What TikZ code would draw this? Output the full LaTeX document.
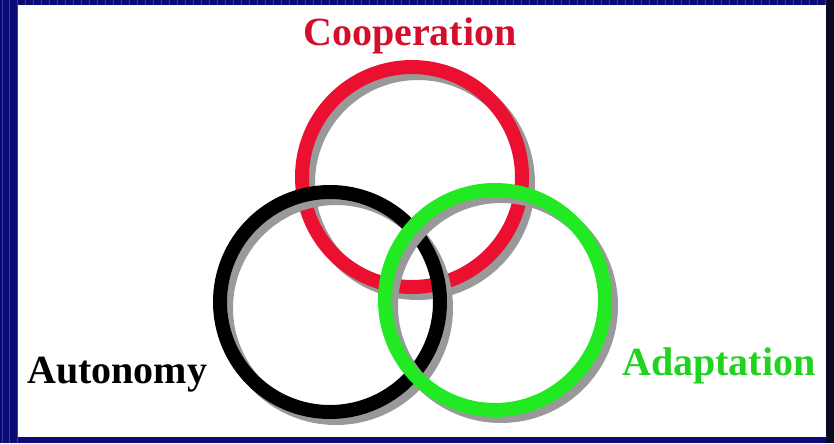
\documentclass[tikz,border=0pt]{standalone}
\usepackage{fontspec}
\setmainfont{Liberation Serif}
\definecolor{frame}{HTML}{0B0B78}
\definecolor{framelt}{HTML}{3C3C9A}
\definecolor{framedk}{HTML}{0A0A22}
\definecolor{coopred}{HTML}{EC1030}
\definecolor{adaptgreen}{HTML}{22EA22}
\definecolor{ringshadow}{HTML}{999999}
\tikzset{px/.style={x=.75pt,y=-.75pt,font=\fontsize{30}{36}\selectfont\bfseries},
  ring/.style={circle,draw,line width=10.5pt,minimum size=165pt,inner sep=0pt}}

\begin{document}
\begin{tikzpicture}[px]
  \useasboundingbox (0,0) rectangle (834,443);
  % frame
  \fill[frame] (0,0) rectangle (834,443);\fill[framedk] (826,0) rectangle (834,443);
  \foreach \x in {2,9,17}{\draw[framelt,line width=.6pt] (\x,0)--(\x,443);}
  \foreach \x in {25,33,...,825}{\draw[framelt,line width=.5pt] (\x,0)--(\x,5);}
  \fill[white] (18,5) rectangle (826,437);
  % rings, back to front
  \node[ring,draw=ringshadow] at (418,183){};\node[ring,draw=coopred] (coop) at (412,177){};
  \node[ring,draw=ringshadow] at (336,308){};\node[ring,draw=black] (auto) at (330,302){};
  \node[ring,draw=ringshadow] at (501,306){};\node[ring,draw=adaptgreen] (adapt) at (495,300){};
  % labels
  \node[coopred!90!black,anchor=base,inner sep=0pt] (coopl) at (410,45){Cooperation};
  \node[black,anchor=base west,inner sep=0pt] (autol) at (27,383){Autonomy};
  \node[adaptgreen!90!black,anchor=base west,inner sep=0pt] (adaptl) at (622,375){Adaptation};
\end{tikzpicture}
\end{document}
